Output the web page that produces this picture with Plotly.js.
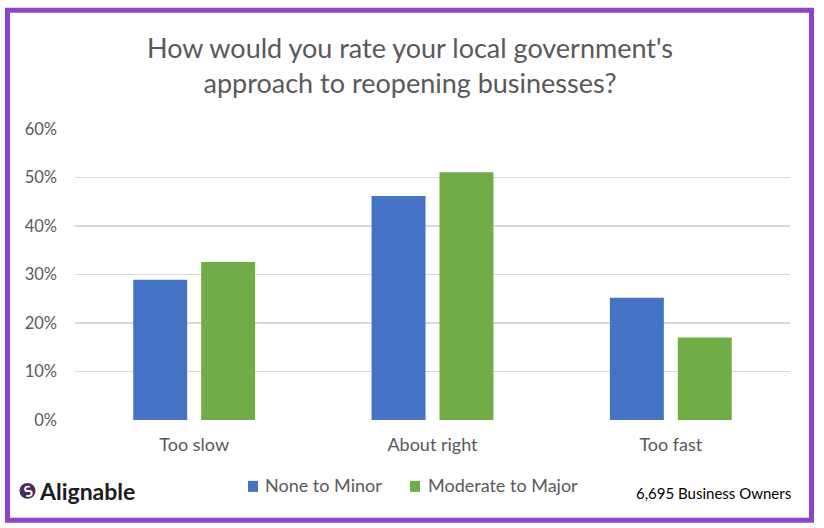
<!DOCTYPE html>
<html>
<head>
<meta charset="utf-8">
<script src="https://cdn.plot.ly/plotly-3.0.1.min.js"></script>
<style>
html,body{margin:0;padding:0;background:#fff;}
#chart{width:824px;height:528px;}
</style>
</head>
<body>
<div id="chart"></div>
<script>
const categories = ["Too slow", "About right", "Too fast"];
const seriesNames = ["None to Minor", "Moderate to Major"];
const seriesColors = ["#4472C4", "#70AD47"];
const noneToMinor = [0.289, 0.462, 0.252];
const moderateToMajor = [0.326, 0.511, 0.170];
const yTickVals = [0, 0.1, 0.2, 0.3, 0.4, 0.5, 0.6];
const yTickText = ["0%", "10%", "20%", "30%", "40%", "50%", "60%"];
const titleText = "How would you rate your local government's<br>approach to reopening businesses?";
const sampleNote = "6,695 Business Owners";
const brandName = "Alignable";

const FONT = "Lato, 'Open Sans', sans-serif";
const GREY = "#595959";

// plot area in pixels: x 75..790, y 129..420.5
const L = 75, R = 790, T = 129, B = 420.5;
const W = R - L, H = B - T;
const px = x => (x - L) / W;
const py = y => (B - y) / H;

const traces = [
  {type: "bar", name: seriesNames[0], x: categories, y: noneToMinor,
   marker: {color: seriesColors[0]}, hoverinfo: "y"},
  {type: "bar", name: seriesNames[1], x: categories, y: moderateToMajor,
   marker: {color: seriesColors[1]}, hoverinfo: "y"}
];

// manual legend (positions in pixels)
const legendSquareX = [248, 410];
const legendTextX = [263, 426];
const legendY = 487;

const annotations = [
  {text: titleText, xref: "paper", yref: "paper", x: px(410), y: py(65), xanchor: "center",
   yanchor: "middle", showarrow: false, font: {family: FONT, size: 27, color: GREY}, align: "center"},
  {text: sampleNote, xref: "paper", yref: "paper", x: px(793), y: py(494), xanchor: "right",
   yanchor: "middle", showarrow: false, font: {family: FONT, size: 15, color: "#000"}},
  {text: "<b>" + brandName + "</b>", xref: "paper", yref: "paper", x: px(37), y: py(492), xanchor: "left",
   yanchor: "middle", showarrow: false, font: {family: FONT, size: 23, color: "#1e1a22"}},
  {text: "<b>S</b>", xref: "paper", yref: "paper", x: px(27.5), y: py(491.5), xanchor: "center",
   yanchor: "middle", showarrow: false, textangle: -20, font: {family: FONT, size: 15, color: "#fff"}}
];
const shapes = [
  {type: "rect", xref: "paper", yref: "paper", x0: px(7.5), x1: px(811.5), y0: py(10), y1: py(521),
   line: {color: "#8E44C8", width: 5}, fillcolor: "rgba(0,0,0,0)", layer: "above"},
  {type: "circle", xref: "paper", yref: "paper", x0: px(19.5), x1: px(35.5), y0: py(483.5), y1: py(499.5),
   line: {width: 0}, fillcolor: "#4A2B5C", layer: "above"}
];
seriesNames.forEach((n, i) => {
  shapes.push({type: "rect", xref: "paper", yref: "paper",
    x0: px(legendSquareX[i]), x1: px(legendSquareX[i] + 10), y0: py(legendY - 5.5), y1: py(legendY + 5.5),
    line: {width: 0}, fillcolor: seriesColors[i], layer: "above"});
  annotations.push({text: n, xref: "paper", yref: "paper", x: px(legendTextX[i]), y: py(legendY - 1),
    xanchor: "left", yanchor: "middle", showarrow: false, font: {family: FONT, size: 18, color: GREY}});
});

const layout = {
  width: 824, height: 528,
  margin: {l: L, r: 824 - R, t: T, b: 528 - B},
  paper_bgcolor: "#fff", plot_bgcolor: "#fff",
  font: {family: FONT, color: GREY, size: 17},
  barmode: "group", bargap: 0.43, bargroupgap: 0.206,
  showlegend: false,
  xaxis: {type: "category", showgrid: false, zeroline: false, showline: false,
          ticks: "", ticklabelstandoff: 12, tickfont: {family: FONT, size: 18, color: GREY}, fixedrange: true},
  yaxis: {range: [0, 0.6], tickvals: yTickVals, ticktext: yTickText,
          showgrid: true, gridcolor: "#D9D9D9", gridwidth: 1.5, zeroline: false,
          showline: false, ticks: "", ticklabelstandoff: 17, tickfont: {family: FONT, size: 16.5, color: GREY},
          fixedrange: true},
  annotations: annotations,
  shapes: shapes
};

Plotly.newPlot("chart", traces, layout, {displayModeBar: false, staticPlot: true});
</script>
</body>
</html>
